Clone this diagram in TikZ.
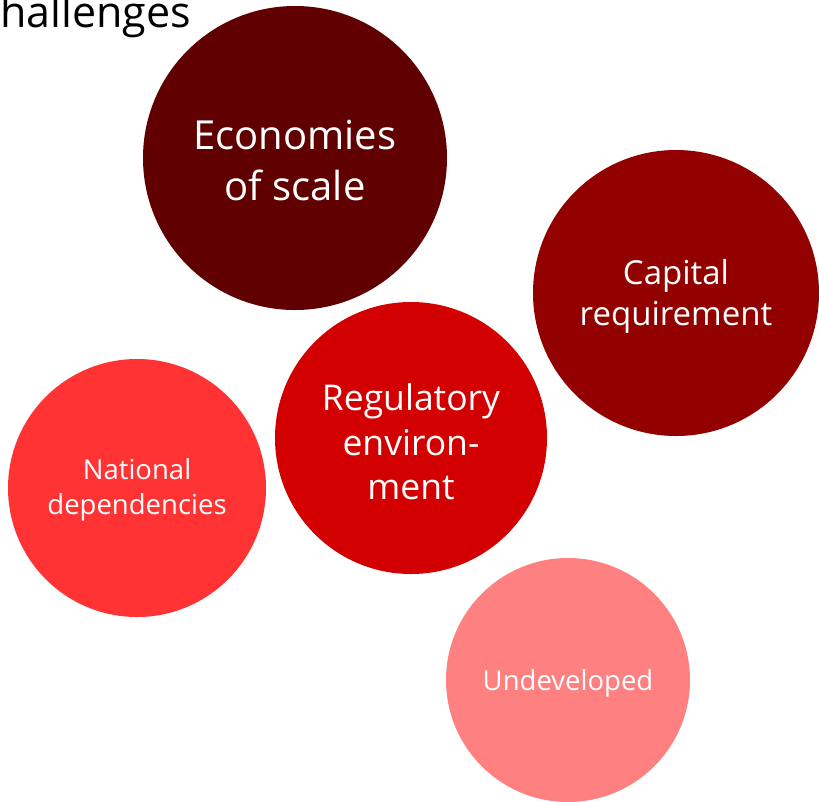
\documentclass[tikz,border=0pt]{standalone}
\usepackage{fontspec}
\setmainfont{Open Sans}
\definecolor{cEco}{HTML}{600000}
\definecolor{cCap}{HTML}{930000}
\definecolor{cReg}{HTML}{D20000}
\definecolor{cNat}{HTML}{FF3333}
\definecolor{cUnd}{HTML}{FF8080}
\begin{document}
\begin{tikzpicture}[x=1pt,y=-1pt,
  bubtext/.style={text=white,align=center,inner sep=0pt}]
\useasboundingbox (0,0) rectangle (819,801);
\node[anchor=base west,inner sep=0pt,font=\fontsize{43}{46}\selectfont] (title) at (0,27) {hallenges};
\fill[cEco] (295,158) circle (152);
\fill[cCap] (676,293) circle (143);
\fill[cReg] (411,438) circle (136);
\fill[cNat] (137,488) circle (129);
\fill[cUnd] (568,680) circle (122);
\node[bubtext,font=\fontsize{40}{51}\selectfont] (eco) at (295,161) {Economies\\of scale};
\node[bubtext,font=\fontsize{33}{41}\selectfont] (cap) at (676,296) {Capital\\requirement};
\node[bubtext,font=\fontsize{35.5}{44.5}\selectfont] (reg) at (411,442) {Regulatory\\environ-\\ment};
\node[bubtext,font=\fontsize{27.5}{35}\selectfont] (nat) at (137,490) {National\\dependencies};
\node[bubtext,font=\fontsize{27.5}{30}\selectfont] (und) at (568,683) {Undeveloped};
\end{tikzpicture}
\end{document}
